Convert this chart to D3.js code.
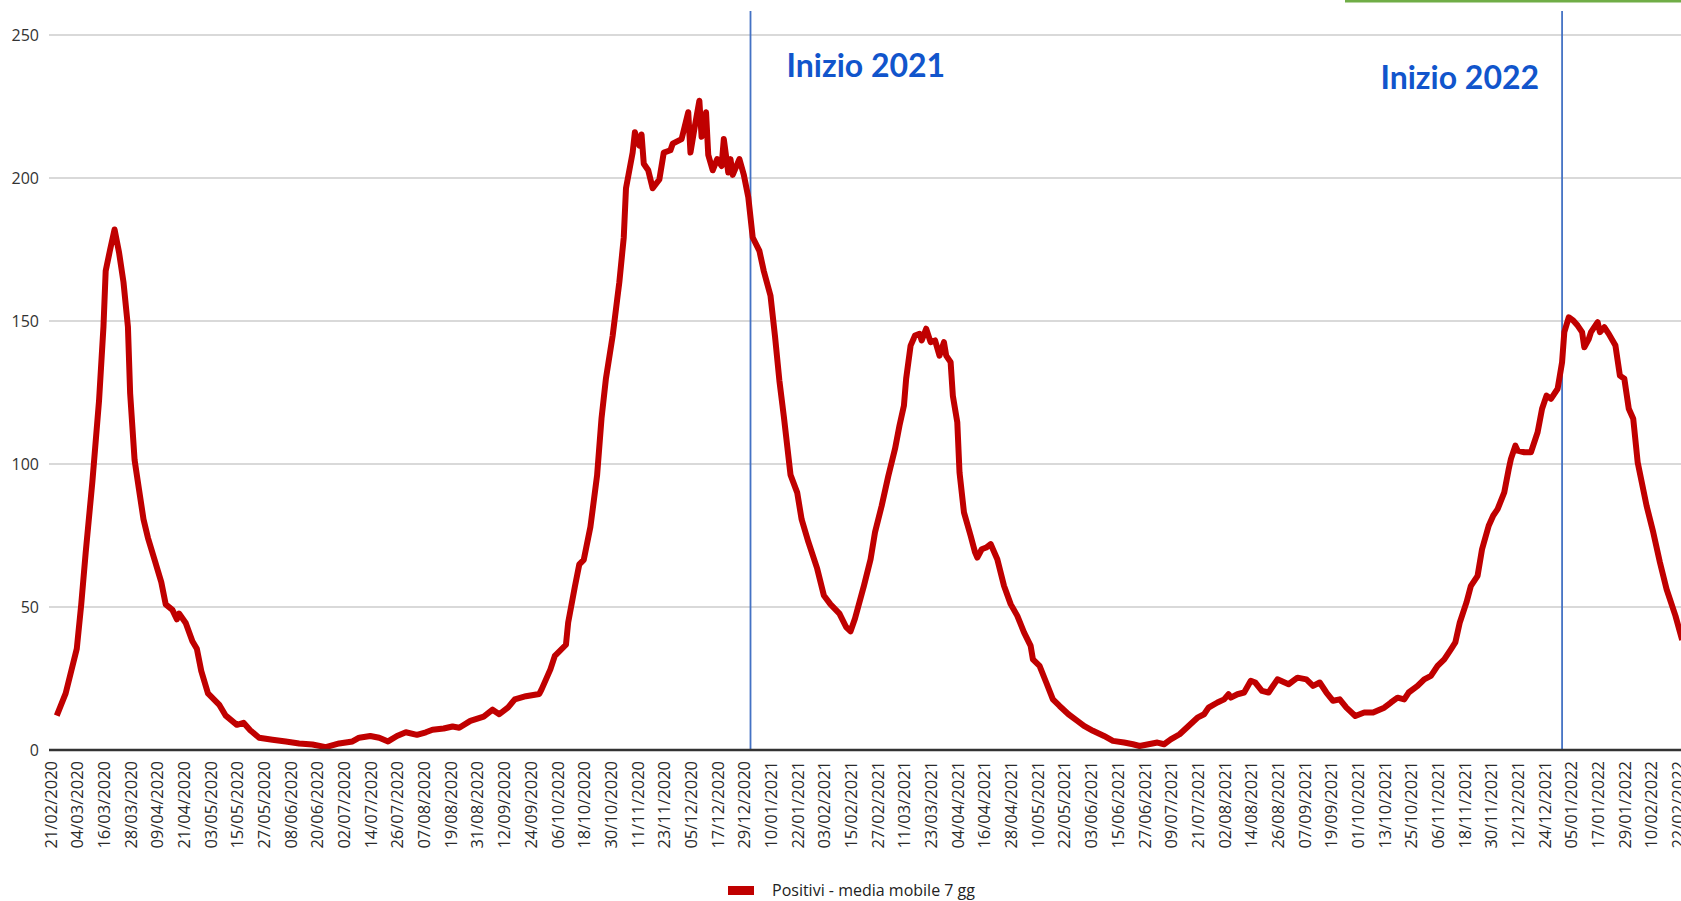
<!DOCTYPE html>
<html>
<head>
<meta charset="utf-8">
<script src="https://cdn.jsdelivr.net/npm/d3@7"></script>
<style>
  html, body { margin: 0; padding: 0; background: #fff; }
  svg { display: block; }
</style>
</head>
<body>
<svg id="chart"></svg>
<script>
// Positivi - media mobile 7 gg, 21/02/2020 -> 02/2022
// days = offset in days from 21/02/2020
const START = '2020-02-21';

const days = [
  3, 7, 12, 14, 16, 19, 22, 24, 25, 27, 29, 31, 33, 35, 36, 38, 40, 42, 44, 47,
  50, 52, 55, 57, 58, 61, 64, 66, 68, 71, 76, 79, 84, 87, 90, 94, 100, 106, 112, 118,
  124, 130, 136, 139, 144, 148, 152, 156, 160, 165, 169, 172, 177, 181, 184, 189, 195, 199, 202, 206,
  209, 214, 220, 221, 225, 227, 232, 233, 236, 238, 240, 243, 246, 248, 250, 253, 255, 256, 258, 259,
  262, 263, 265, 266, 267, 269, 271, 274, 276, 279, 280, 284, 287, 288, 290, 292, 293, 295, 296, 298,
  300, 302, 303, 305, 306, 307, 310, 312, 314, 316, 319, 321, 324, 326, 328, 330, 333, 336, 338, 341,
  345, 348, 351, 355, 358, 360, 362, 366, 369, 371, 374, 377, 380, 382, 384, 385, 387, 389, 391, 392,
  394, 396, 398, 400, 402, 403, 405, 406, 408, 409, 411, 414, 416, 417, 419, 421, 423, 426, 429, 432,
  435, 438, 441, 442, 445, 448, 451, 454, 458, 462, 465, 469, 474, 478, 483, 487, 490, 494, 498, 501,
  504, 508, 512, 516, 519, 521, 525, 528, 530, 531, 534, 537, 540, 542, 545, 548, 552, 557, 561, 565,
  568, 571, 574, 577, 580, 583, 587, 591, 595, 600, 603, 606, 609, 611, 615, 618, 621, 624, 627, 630,
  632, 634, 637, 639, 642, 644, 647, 649, 651, 654, 656, 657, 659, 660, 663, 666, 669, 671, 673, 675,
  678, 680, 681, 683, 685, 687, 689, 690, 692, 693, 696, 697, 699, 701, 704, 706, 708, 710, 712, 714,
  718, 721, 724, 727, 731, 734
];

const values = [
  12.0, 19.8, 35.4, 50.9, 69.0, 93.7, 122.0, 148.0, 167.5, 175.0, 182.0, 174.0, 163.6, 148.0, 124.7, 101.4, 91.0, 80.7, 74.2, 66.5,
  58.7, 50.9, 49.0, 45.7, 47.7, 44.4, 38.0, 35.4, 27.6, 19.8, 15.9, 12.0, 8.8, 9.5, 6.9, 4.3, 3.6, 3.0, 2.3, 1.9,
  1.0, 2.3, 3.0, 4.3, 4.9, 4.3, 3.0, 4.9, 6.2, 5.3, 6.2, 7.1, 7.5, 8.2, 7.8, 10.2, 11.7, 14.1, 12.5, 14.9,
  17.7, 18.8, 19.6, 21.1, 28.2, 32.9, 36.8, 44.6, 57.1, 64.9, 66.5, 78.0, 96.0, 116.0, 130.0, 144.8, 157.3, 163.5, 179.2, 196.4,
  208.9, 216.0, 211.3, 215.2, 205.0, 202.7, 196.4, 199.5, 208.9, 209.7, 212.0, 213.6, 223.0, 208.9, 218.3, 227.0, 214.4, 223.0, 208.1, 202.7,
  206.6, 204.2, 213.6, 201.9, 206.6, 201.1, 206.6, 201.1, 193.3, 179.2, 174.5, 167.4, 158.8, 144.8, 129.1, 116.6, 96.2, 90.0, 80.6, 72.8,
  63.4, 54.0, 50.9, 47.7, 43.0, 41.5, 46.0, 57.4, 66.7, 76.1, 85.4, 95.9, 105.3, 113.4, 120.4, 129.8, 141.4, 144.9, 145.5, 143.2,
  147.3, 142.6, 143.2, 137.9, 142.6, 137.9, 135.6, 123.9, 114.6, 97.1, 83.1, 74.9, 69.1, 67.3, 70.2, 70.8, 72.0, 66.7, 57.4, 51.0,
  46.9, 41.1, 36.4, 31.7, 29.4, 23.6, 17.7, 15.4, 12.5, 10.2, 8.4, 6.7, 4.9, 3.2, 2.6, 2.0, 1.4, 2.0, 2.6, 2.0,
  3.7, 5.5, 8.4, 11.3, 12.5, 14.8, 16.6, 17.7, 19.5, 18.3, 19.5, 20.1, 24.2, 23.6, 20.7, 20.1, 24.7, 23.0, 25.3, 24.7,
  22.4, 23.6, 20.1, 17.2, 17.7, 14.8, 11.9, 13.1, 13.1, 14.8, 16.6, 18.3, 17.7, 20.1, 22.4, 24.7, 25.9, 29.4, 31.7, 35.2,
  37.6, 44.6, 51.6, 57.4, 60.9, 70.2, 78.4, 81.9, 84.2, 90.1, 98.2, 101.8, 106.4, 104.7, 104.1, 104.1, 111.1, 119.3, 123.9, 122.8,
  126.3, 135.6, 146.1, 151.3, 150.2, 148.4, 146.1, 140.8, 143.7, 146.1, 149.6, 146.1, 147.8, 145.5, 141.4, 130.9, 129.8, 119.3, 115.8, 100.6,
  85.4, 76.1, 65.6, 56.2, 46.9, 38.5
];

const yTicks = [0, 50, 100, 150, 200, 250];
const tickStepDays = 12;
const lastTickDay = 732;

const markers = [
  { date: '2021-01-01', label: 'Inizio 2021' },
  { date: '2022-01-01', label: 'Inizio 2022' }
];
const seriesName = 'Positivi - media mobile 7 gg';

// ─── LAYOUT ───
const W = 1681, H = 901;
const plotLeft = 49, baseY = 750, topY = 35;
const x0 = 50.1, pxPerDay = 2.2235;
const RED = '#c00000', BLUE = '#4472c4', TEXT_BLUE = '#1155cc';

const start = d3.utcParse('%Y-%m-%d')(START);
const endDate = d3.utcDay.offset(start, 736);

const svg = d3.select('#chart').attr('width', W).attr('height', H);

const x = d3.scaleUtc().domain([start, endDate]).range([x0, x0 + 736 * pxPerDay]);
const y = d3.scaleLinear().domain([0, 250]).range([baseY, topY]);

// gridlines
svg.append('g').selectAll('line')
  .data(yTicks.filter(d => d > 0))
  .join('line')
  .attr('x1', plotLeft).attr('x2', W)
  .attr('y1', d => y(d)).attr('y2', d => y(d))
  .attr('stroke', '#cccccc').attr('stroke-width', 1.3);

// y axis labels
const yAxis = svg.append('g')
  .attr('transform', `translate(${plotLeft},0)`)
  .call(d3.axisLeft(y).tickValues(yTicks).tickSize(0).tickPadding(10));
yAxis.select('.domain').remove();
yAxis.selectAll('text')
  .attr('font-family', '"Open Sans", sans-serif')
  .attr('font-size', 16).attr('fill', '#333');

// x axis labels
const tickDates = d3.utcDay.range(start, d3.utcDay.offset(start, lastTickDay + 1), tickStepDays);
const xAxis = svg.append('g')
  .attr('transform', `translate(0,${baseY})`)
  .call(d3.axisBottom(x).tickValues(tickDates).tickFormat(d3.utcFormat('%d/%m/%Y')).tickSize(0));
xAxis.select('.domain').remove();
xAxis.selectAll('text')
  .attr('font-family', '"Open Sans", sans-serif')
  .attr('font-size', 16.5).attr('fill', '#2a2a2a')
  .attr('text-anchor', 'end')
  .attr('transform', 'rotate(-90)')
  .attr('x', -11).attr('y', 0).attr('dy', '0.36em');

// year markers
const parse = d3.utcParse('%Y-%m-%d');
markers.forEach(m => {
  const mx = x(parse(m.date));
  svg.append('line')
    .attr('x1', mx).attr('x2', mx).attr('y1', 11).attr('y2', baseY)
    .attr('stroke', BLUE).attr('stroke-width', 1.8);
});

// series line
const points = days.map((d, i) => ({ date: d3.utcDay.offset(start, d), v: values[i] }));
svg.append('path')
  .datum(points)
  .attr('fill', 'none')
  .attr('stroke', RED)
  .attr('stroke-width', 6)
  .attr('stroke-linejoin', 'round')
  .attr('d', d3.line().x(d => x(d.date)).y(d => y(d.v)));

// baseline
svg.append('line')
  .attr('x1', plotLeft).attr('x2', W).attr('y1', baseY).attr('y2', baseY)
  .attr('stroke', '#333').attr('stroke-width', 2.5);

// marker labels
const x2021 = x(parse(markers[0].date));
const x2022 = x(parse(markers[1].date));
svg.append('text')
  .attr('x', x2021 + 36).attr('y', 77)
  .attr('font-family', 'Lato, sans-serif').attr('font-weight', 700).attr('font-size', 32)
  .attr('fill', TEXT_BLUE).text(markers[0].label);
svg.append('text')
  .attr('x', x2022 - 23).attr('y', 89).attr('text-anchor', 'end')
  .attr('font-family', 'Lato, sans-serif').attr('font-weight', 700).attr('font-size', 32)
  .attr('fill', TEXT_BLUE).text(markers[1].label);

// green strip at top right
svg.append('rect')
  .attr('x', 1345).attr('y', 0).attr('width', W - 1345).attr('height', 2.5)
  .attr('fill', '#70ad47');

// legend
const legend = svg.append('g').attr('transform', 'translate(728,886)');
legend.append('rect').attr('width', 26).attr('height', 9).attr('fill', RED);
legend.append('text')
  .attr('x', 44).attr('y', 10)
  .attr('font-family', '"Open Sans", sans-serif').attr('font-size', 16)
  .attr('fill', '#222').text(seriesName);
</script>
</body>
</html>
